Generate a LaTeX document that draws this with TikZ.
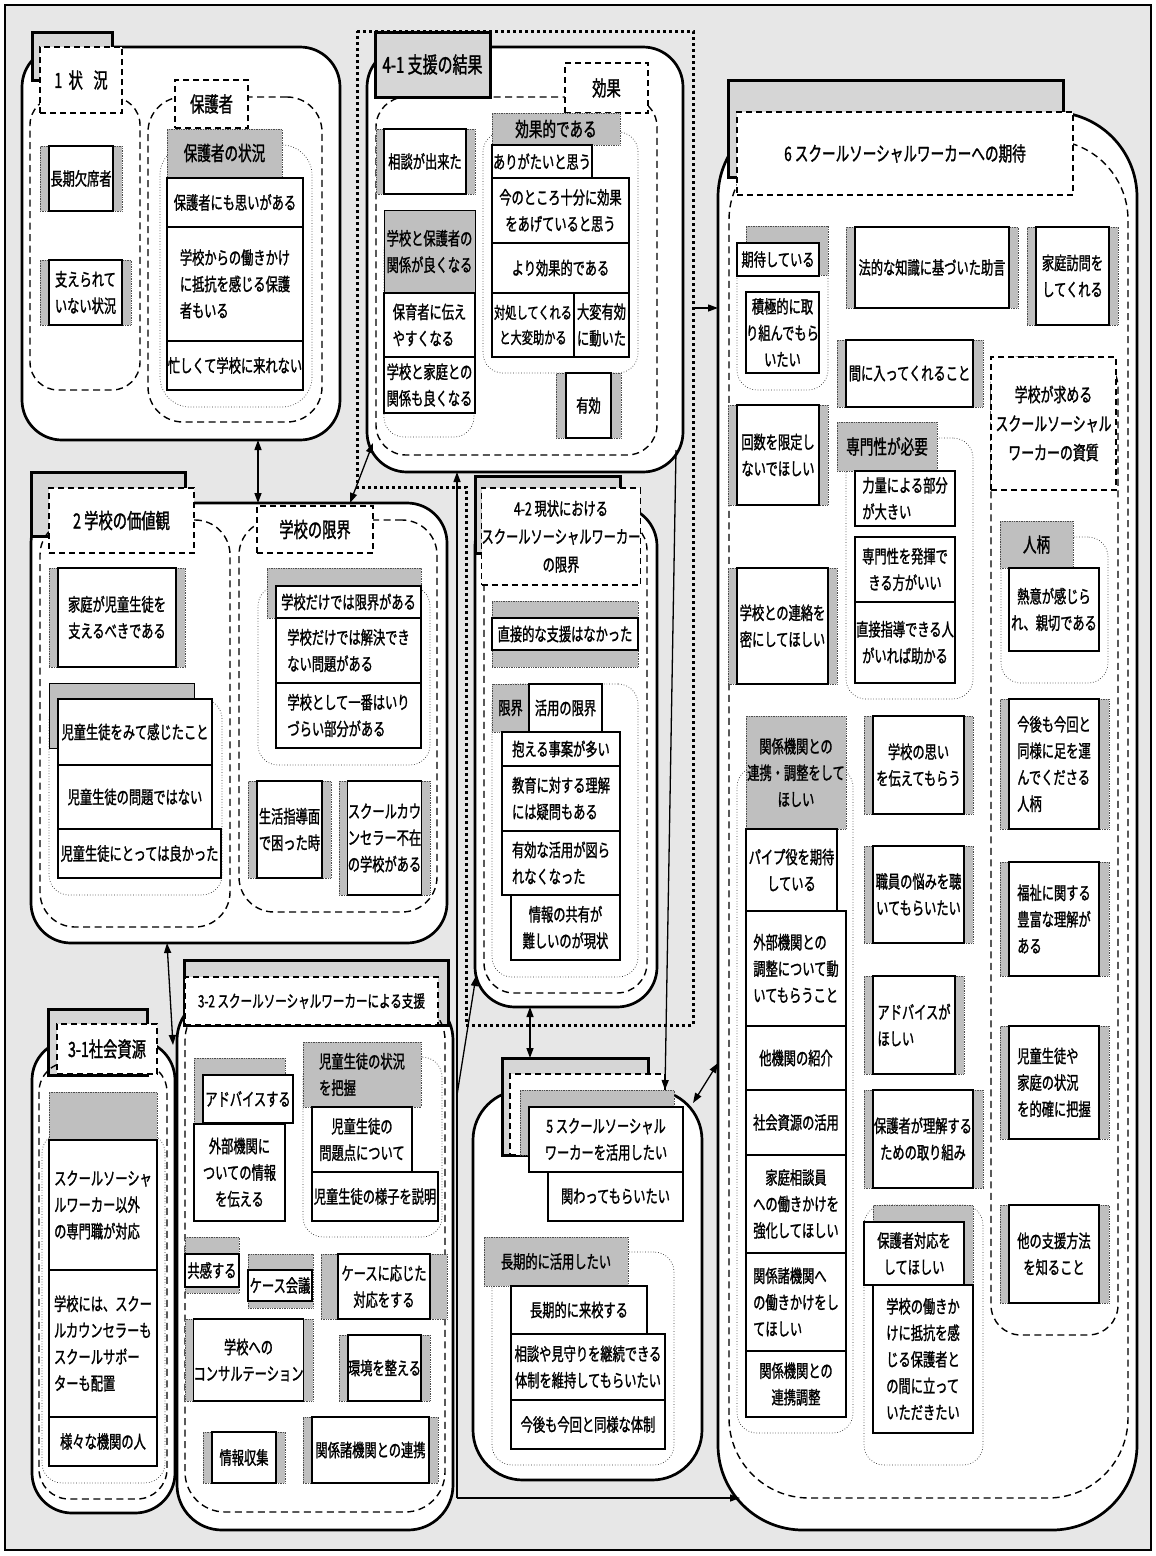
\documentclass[tikz,border=0pt]{standalone}
\usepackage{fontspec}
\setmainfont{Noto Sans CJK JP}[FakeStretch=0.68,FakeBold=1.3]
\usetikzlibrary{arrows.meta}
\definecolor{bggray}{gray}{0.905}
\definecolor{tabgray}{gray}{0.84}
\definecolor{hdrgray}{gray}{0.75}
\newcommand{\bx}[7][]{%
  \pgfmathsetmacro\myW{#5-#3}%
  \pgfmathsetmacro\myH{#6-#4}%
  \pgfmathsetmacro\myX{(#3+#5)/2}%
  \pgfmathsetmacro\myY{(#4+#6)/2}%
  \node[bxbase, minimum width=\myW pt, minimum height=\myH pt, #1] (#2) at (\myX,\myY) {#7};}
\tikzset{
  bxbase/.style={inner sep=0pt, outer sep=0pt, align=center, font=\fontsize{18}{26.5}\selectfont},
  bigbox/.style={draw=black, line width=2.7pt, fill=white, rounded corners=40pt},
  tabbox/.style={draw=black, line width=3pt, fill=tabgray},
  lab/.style={draw=black, line width=1.3pt, dash pattern=on 6pt off 4pt, fill=white, font=\fontsize{21}{29}\selectfont},
  dreg/.style={draw=black, line width=1.4pt, dash pattern=on 7pt off 4.5pt, rounded corners=30pt},
  dotreg/.style={draw=black!80, line width=0.7pt, dotted, rounded corners=20pt},
  hdr/.style={fill=hdrgray, draw=black!70, line width=0.7pt, densely dotted},
  sidebar/.style={fill=hdrgray, draw=black!70, line width=0.7pt, densely dotted},
  item/.style={fill=white, draw=black, line width=1.2pt},
  ttl/.style={font=\fontsize{20}{29}\selectfont},
  sm/.style={font=\fontsize{16.5}{25}\selectfont},
  conn/.style={line width=1.3pt, -{Triangle[length=10pt,width=7pt]}},
  conn2/.style={line width=1.3pt, {Triangle[length=10pt,width=7pt]}-{Triangle[length=10pt,width=7pt]}},
  dotL/.style={line width=3pt, dash pattern=on 3pt off 3pt},
}
\begin{document}
\begin{tikzpicture}[x=1pt,y=-1pt]
\useasboundingbox (0,0) rectangle (1156,1556);
\fill[white] (0,0) rectangle (1156,1556);
\draw[line width=1.6pt, fill=bggray] (5,5) rectangle (1151,1550);
\draw[dotL] (357,31) -- (693,31) -- (693,1025) -- (466,1025) -- (466,487) -- (357,487) -- cycle;

% ===== Box 1 =====
\bx[bigbox]{b1}{22}{47}{340}{440}{}
\bx[tabbox]{b1tab}{32}{32}{112}{80}{}
\bx[dreg,rounded corners=28pt]{b1l}{30}{97}{140}{390}{}
\bx[dreg,rounded corners=35pt]{b1r}{148}{97}{322}{422}{}
\bx[lab]{b1lab}{40}{47}{122}{113}{1\hspace{0.3em}状\hspace{0.5em}況}
\bx[lab]{b1rlab}{175}{80}{248}{128}{保護者}
\bx[dotreg,rounded corners=30pt]{b1d}{160}{145}{312}{407}{}
\bx[hdr,ttl]{b1h}{167}{129}{282}{177}{保護者の状況}
\bx[item]{b1i1}{167}{178}{303}{227}{保護者にも思いがある}
\bx[item,align=left]{b1i2}{167}{227}{303}{341}{学校からの働きかけ\\に抵抗を感じる保護\\者もいる}
\bx[item]{b1i3}{167}{341}{303}{390}{忙しくて学校に来れない}
\bx[sidebar]{b1s1g}{40}{146}{122}{211}{}
\bx[item]{b1s1}{49}{146}{113}{211}{長期欠席者}
\bx[sidebar]{b1s2g}{40}{260}{131}{325}{}
\bx[item]{b1s2}{49}{260}{122}{325}{支えられて\\いない状況}

% ===== Box 4-1 =====
\bx[bigbox]{b41}{367}{47}{683}{472}{}
\bx[dreg]{b41r}{376}{97}{657}{455}{}
\bx[tabbox,font=\fontsize{22}{29}\selectfont]{b41tab}{375}{32}{490}{97}{4-1 支援の結果}
\bx[lab]{b41lab}{565}{63}{648}{113}{効果}
\bx[sidebar]{b41ag}{376}{129}{475}{194}{}
\bx[item]{b41a}{384}{129}{466}{194}{相談が出来た}
\bx[dotreg]{b41bd}{384}{230}{474}{437}{}
\bx[hdr,solid,draw=black]{b41b}{384}{210}{475}{293}{学校と保護者の\\関係が良くなる}
\bx[item,align=left]{b41b1}{384}{293}{475}{357}{保育者に伝え\\やすくなる}
\bx[item]{b41b2}{384}{357}{475}{413}{学校と家庭との\\関係も良くなる}
\bx[dotreg]{b41cd}{483}{132}{638}{373}{}
\bx[hdr,ttl]{b41c}{492}{113}{620}{145}{効果的である}
\bx[item]{b41c1}{492}{145}{592}{178}{ありがたいと思う}
\bx[item]{b41c2}{492}{178}{629}{243}{今のところ十分に効果\\をあげていると思う}
\bx[item]{b41c3}{492}{243}{629}{293}{より効果的である}
\bx[item,sm]{b41c4}{492}{293}{574}{357}{対処してくれる\\と大変助かる}
\bx[item]{b41c5}{574}{293}{629}{357}{大変有効\\に動いた}
\bx[sidebar]{b41dg}{556}{373}{621}{438}{}
\bx[item]{b41d}{566}{373}{611}{438}{有効}

% ===== Box 6 =====
\bx[bigbox,rounded corners=85pt]{b6}{718}{112}{1137}{1530}{}
\bx[tabbox]{b6tab}{728}{80}{1063}{177}{}
\bx[dreg,rounded corners=80pt]{b6r}{729}{140}{1128}{1498}{}
\bx[lab,font=\fontsize{20}{29}\selectfont]{b6lab}{737}{112}{1073}{195}{6 スクールソーシャルワーカーへの期待}
\bx[dotreg]{b6kd}{737}{243}{828}{390}{}
\bx[sidebar]{b6kg}{746}{226}{828}{275}{}
\bx[item]{b6k}{737}{243}{819}{276}{期待している}
\bx[item]{b6k1}{746}{292}{819}{373}{積極的に取\\り組んでもら\\いたい}
\bx[sidebar]{b6hg}{846}{227}{1018}{308}{}
\bx[item]{b6h}{855}{227}{1009}{308}{法的な知識に基づいた助言}
\bx[sidebar]{b6vg}{1027}{227}{1118}{325}{}
\bx[item]{b6v}{1036}{227}{1109}{325}{家庭訪問を\\してくれる}
\bx[sidebar]{b6mg}{837}{340}{983}{407}{}
\bx[item]{b6m}{846}{340}{973}{407}{間に入ってくれること}
\bx[dreg]{b6q}{991}{357}{1118}{1335}{}
\bx[lab,font=\fontsize{19}{29}\selectfont]{b6qlab}{991}{357}{1116}{490}{学校が求める\\スクールソーシャル\\ワーカーの資質}
\bx[sidebar]{b6ng}{728}{405}{828}{505}{}
\bx[item]{b6n}{737}{405}{819}{505}{回数を限定し\\ないでほしい}
\bx[dotreg]{b6sd}{846}{438}{973}{699}{}
\bx[hdr,ttl]{b6s}{837}{422}{937}{471}{専門性が必要}
\bx[item,align=left]{b6s1}{855}{471}{955}{526}{力量による部分\\が大きい}
\bx[item]{b6s2}{855}{537}{955}{602}{専門性を発揮で\\きる方がいい}
\bx[item]{b6s3}{855}{602}{955}{683}{直接指導できる人\\がいれば助かる}
\bx[sidebar]{b6cg}{728}{568}{837}{684}{}
\bx[item]{b6c}{737}{568}{828}{684}{学校との連絡を\\密にしてほしい}
\bx[dotreg]{b6pd}{1001}{537}{1108}{683}{}
\bx[hdr,ttl]{b6p}{1000}{521}{1073}{568}{人柄}
\bx[item]{b6p1}{1009}{568}{1099}{651}{熱意が感じら\\れ、親切である}
\bx[dotreg]{b6rd}{737}{767}{853}{1433}{}
\bx[hdr]{b6rh}{746}{716}{846}{829}{関係機関との\\連携・調整をして\\ほしい}
\bx[item]{b6r1}{746}{829}{837}{911}{パイプ役を期待\\している}
\bx[item,align=left]{b6r2}{746}{911}{846}{1026}{外部機関との\\調整について動\\いてもらうこと}
\bx[item]{b6r3}{746}{1026}{846}{1090}{他機関の紹介}
\bx[item]{b6r4}{746}{1090}{846}{1155}{社会資源の活用}
\bx[item]{b6r5}{746}{1155}{846}{1253}{家庭相談員\\への働きかけを\\強化してほしい}
\bx[item,align=left]{b6r6}{746}{1253}{846}{1351}{関係諸機関へ\\の働きかけをし\\てほしい}
\bx[item]{b6r7}{746}{1351}{846}{1417}{関係機関との\\連携調整}
\bx[sidebar]{b6og}{864}{716}{973}{814}{}
\bx[item]{b6o}{873}{716}{964}{814}{学校の思い\\を伝えてもらう}
\bx[sidebar]{b6wg}{864}{846}{973}{943}{}
\bx[item]{b6w}{873}{846}{964}{943}{職員の悩みを聴\\いてもらいたい}
\bx[sidebar]{b6ag}{864}{976}{964}{1074}{}
\bx[item,align=left]{b6a}{873}{976}{955}{1074}{アドバイスが\\ほしい}
\bx[sidebar]{b6ug}{864}{1090}{983}{1188}{}
\bx[item]{b6u}{873}{1090}{973}{1188}{保護者が理解する\\ための取り組み}
\bx[dotreg]{b6td}{864}{1205}{983}{1465}{}
\bx[sidebar]{b6tg}{873}{1205}{973}{1285}{}
\bx[item]{b6t}{864}{1222}{964}{1285}{保護者対応を\\してほしい}
\bx[item,align=left]{b6t1}{873}{1285}{973}{1433}{学校の働きか\\けに抵抗を感\\じる保護者と\\の間に立って\\いただきたい}
\bx[sidebar]{b6xg}{1000}{699}{1109}{829}{}
\bx[item,align=left]{b6x}{1009}{699}{1099}{829}{今後も今回と\\同様に足を運\\んでくださる\\人柄}
\bx[sidebar]{b6yg}{1000}{862}{1109}{976}{}
\bx[item,align=left]{b6y}{1009}{862}{1099}{976}{福祉に関する\\豊富な理解が\\ある}
\bx[sidebar]{b6zg}{1000}{1026}{1109}{1139}{}
\bx[item,align=left]{b6z}{1009}{1026}{1099}{1139}{児童生徒や\\家庭の状況\\を的確に把握}
\bx[sidebar]{b6eg}{1000}{1205}{1109}{1303}{}
\bx[item]{b6e}{1009}{1205}{1099}{1303}{他の支援方法\\を知ること}

% ===== Box 2 =====
\bx[bigbox]{b2}{31}{503}{447}{943}{}
\bx[tabbox]{b2tab}{31}{472}{185}{536}{}
\bx[dreg,rounded corners=35pt]{b2l}{40}{520}{230}{927}{}
\bx[dreg,rounded corners=35pt]{b2r}{239}{520}{437}{912}{}
\bx[lab]{b2lab}{49}{488}{194}{553}{2 学校の価値観}
\bx[lab]{b2rlab}{257}{506}{373}{553}{学校の限界}
\bx[sidebar]{b2ag}{49}{568}{185}{667}{}
\bx[item]{b2a}{58}{568}{176}{667}{家庭が児童生徒を\\支えるべきである}
\bx[dotreg]{b2bd}{49}{699}{222}{895}{}
\bx[hdr,solid,draw=black]{b2bh}{49}{683}{194}{748}{}
\bx[item]{b2b1}{58}{699}{212}{765}{児童生徒をみて感じたこと}
\bx[item]{b2b2}{58}{765}{212}{829}{児童生徒の問題ではない}
\bx[item]{b2b3}{58}{829}{221}{878}{児童生徒にとっては良かった}
\bx[dotreg]{b2cd}{258}{586}{430}{765}{}
\bx[sidebar]{b2cg}{267}{568}{421}{618}{}
\bx[item]{b2c}{276}{586}{421}{618}{学校だけでは限界がある}
\bx[item,align=left]{b2c1}{276}{618}{421}{683}{学校だけでは解決でき\\ない問題がある}
\bx[item,align=left]{b2c2}{276}{683}{421}{748}{学校として一番はいり\\づらい部分がある}
\bx[sidebar]{b2dg}{248}{781}{331}{878}{}
\bx[item]{b2d}{257}{781}{322}{878}{生活指導面\\で困った時}
\bx[sidebar]{b2eg}{339}{781}{430}{895}{}
\bx[item]{b2e}{348}{781}{421}{895}{スクールカウ\\ンセラー不在\\の学校がある}

% ===== Box 4-2 =====
\bx[bigbox]{b42}{475}{506}{657}{1007}{}
\bx[tabbox]{b42tab}{475}{476}{620}{553}{}
\bx[dreg]{b42r}{484}{520}{647}{993}{}
\bx[lab,font=\fontsize{18}{28}\selectfont]{b42lab}{484}{488}{638}{585}{4-2 現状における\\スクールソーシャルワーカー\\の限界}
\bx[sidebar]{b42ag}{492}{601}{638}{667}{}
\bx[item]{b42a}{492}{618}{638}{650}{直接的な支援はなかった}
\bx[dotreg]{b42bd}{492}{684}{638}{977}{}
\bx[hdr]{b42bh}{492}{684}{529}{732}{限界}
\bx[item]{b42b}{529}{684}{602}{732}{活用の限界}
\bx[item]{b42b1}{502}{732}{620}{766}{抱える事案が多い}
\bx[item,align=left]{b42b2}{502}{766}{620}{831}{教育に対する理解\\には疑問もある}
\bx[item,align=left]{b42b3}{502}{831}{620}{895}{有効な活用が図ら\\れなくなった}
\bx[item]{b42b4}{511}{895}{620}{960}{情報の共有が\\難しいのが現状}

% ===== Box 3-1 =====
\bx[bigbox]{b31}{32}{1040}{175}{1513}{}
\bx[tabbox]{b31tab}{48}{1009}{147}{1075}{}
\bx[dreg]{b31r}{39}{1062}{167}{1499}{}
\bx[lab]{b31lab}{57}{1024}{157}{1074}{3-1社会資源}
\bx[dotreg]{b31d}{42}{1133}{165}{1483}{}
\bx[sidebar]{b31h}{49}{1092}{157}{1140}{}
\bx[item,align=left]{b31a}{49}{1140}{157}{1270}{スクールソーシャ\\ルワーカー以外\\の専門職が対応}
\bx[item,align=left]{b31b}{49}{1270}{157}{1417}{学校には、スクー\\ルカウンセラーも\\スクールサポー\\ターも配置}
\bx[item]{b31c}{49}{1417}{157}{1466}{様々な機関の人}

% ===== Box 3-2 =====
\bx[bigbox,rounded corners=45pt]{b32}{177}{995}{453}{1530}{}
\bx[tabbox]{b32tab}{184}{960}{448}{1025}{}
\bx[dreg,rounded corners=40pt]{b32r}{185}{1000}{445}{1512}{}
\bx[lab,font=\fontsize{17}{25}\selectfont]{b32lab}{185}{977}{438}{1025}{3-2 スクールソーシャルワーカーによる支援}
\bx[sidebar]{b32ag}{194}{1058}{285}{1124}{}
\bx[item]{b32a}{203}{1075}{293}{1123}{アドバイスする}
\bx[item]{b32a1}{194}{1124}{285}{1221}{外部機関に\\ついての情報\\を伝える}
\bx[dotreg]{b32bd}{303}{1057}{442}{1237}{}
\bx[hdr,align=left]{b32b}{303}{1042}{421}{1107}{児童生徒の状況\\を把握}
\bx[item]{b32b1}{312}{1107}{412}{1172}{児童生徒の\\問題点について}
\bx[item]{b32b2}{312}{1172}{438}{1221}{児童生徒の様子を説明}
\bx[sidebar]{b32cg}{185}{1237}{239}{1293}{}
\bx[item]{b32c}{185}{1254}{239}{1287}{共感する}
\bx[sidebar]{b32dg}{248}{1254}{313}{1308}{}
\bx[item]{b32d}{248}{1270}{312}{1301}{ケース会議}
\bx[sidebar]{b32eg}{321}{1254}{447}{1319}{}
\bx[item]{b32e}{338}{1254}{430}{1319}{ケースに応じた\\対応をする}
\bx[sidebar]{b32fg}{185}{1319}{313}{1401}{}
\bx[item]{b32f}{194}{1319}{303}{1401}{学校への\\コンサルテーション}
\bx[sidebar]{b32gg}{339}{1335}{430}{1401}{}
\bx[item]{b32g}{348}{1335}{421}{1401}{環境を整える}
\bx[sidebar]{b32hg}{203}{1432}{285}{1483}{}
\bx[item]{b32h}{212}{1432}{276}{1483}{情報収集}
\bx[sidebar]{b32ig}{303}{1417}{438}{1483}{}
\bx[item]{b32i}{312}{1417}{429}{1483}{関係諸機関との連携}

% ===== Box 5 =====
\bx[bigbox,rounded corners=50pt]{b5}{473}{1090}{702}{1480}{}
\bx[tabbox]{b5tab}{502}{1058}{648}{1155}{}
\bx[lab]{b5lab}{510}{1074}{665}{1155}{}
\bx[sidebar]{b5g}{520}{1090}{674}{1155}{}
\bx[item]{b5t}{529}{1107}{683}{1172}{5 スクールソーシャル\\ワーカーを活用したい}
\bx[item]{b5t1}{548}{1172}{683}{1221}{関わってもらいたい}
\bx[dotreg]{b5ld}{492}{1252}{674}{1465}{}
\bx[hdr]{b5l}{484}{1237}{628}{1286}{長期的に活用したい}
\bx[item]{b5l1}{511}{1286}{647}{1334}{長期的に来校する}
\bx[item]{b5l2}{511}{1334}{665}{1400}{相談や見守りを継続できる\\体制を維持してもらいたい}
\bx[item]{b5l3}{511}{1400}{665}{1449}{今後も今回と同様な体制}

% ===== Connectors =====
\coordinate (c12) at (258,0);
\draw[conn2] (b1.south -| c12) -- (b2.north -| c12);
\draw[conn2] ([shift={(6,-29)}]b41.south west) -- ([shift={(-97,0)}]b2.north east);
\coordinate (c23) at (167,0);
\draw[conn2] (b2.south -| c23) -- ([shift={(-2,5)}]b31.north east);
\coordinate (g4e) at (693,308);
\draw[conn] (g4e) -- (g4e -| b6.west);
\coordinate (c45) at (665,0);
\draw[conn] ([shift={(-7,-22)}]b41.south east) -- (b5.north -| c45);
\coordinate (c425) at (530,0);
\draw[conn2] (b42.south -| c425) -- (b5tab.north -| c425);
\coordinate (c56) at (0,1063);
\draw[conn2] ([shift={(-9,13)}]b5.north east) -- (b6.west |- c56);
\coordinate (jb) at (457,1498);
\coordinate (jm) at (457,1095);
\draw[line width=1.3pt] (jb) -- (jm);
\draw[conn] (jm) -- (jm |- b41.south);
\draw[conn] (jm) -- ([shift={(1,-31)}]b42.south west);
\draw[conn] (jb) -- ([shift={(22,-32)}]b6.south west);
\end{tikzpicture}
\end{document}
